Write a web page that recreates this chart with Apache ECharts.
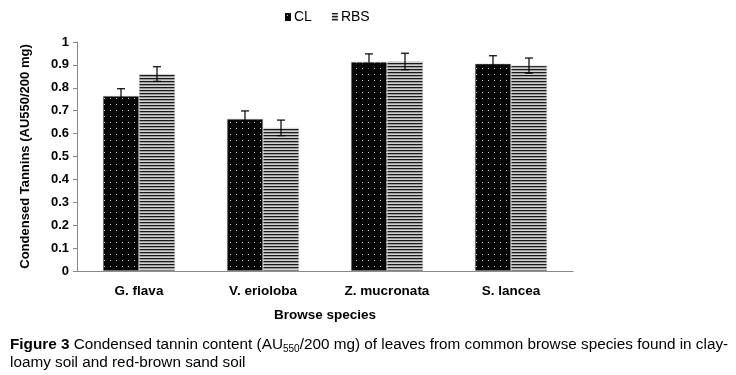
<!DOCTYPE html>
<html>
<head>
<meta charset="utf-8">
<script src="https://cdn.jsdelivr.net/npm/echarts@6/dist/echarts.min.js"></script>
<style>
  html, body { margin: 0; padding: 0; background: #fff; }
  #chart { width: 736px; height: 375px; }
</style>
</head>
<body>
<div id="chart"></div>
<script>
// data
const species = ["G. flava", "V. erioloba", "Z. mucronata", "S. lancea"];
const clValues = [0.764, 0.664, 0.913, 0.905];
const clErrors = [0.032, 0.035, 0.035, 0.035];
const rbsValues = [0.860, 0.625, 0.915, 0.897];
const rbsErrors = [0.032, 0.034, 0.036, 0.033];
const yTicks = [0, 0.1, 0.2, 0.3, 0.4, 0.5, 0.6, 0.7, 0.8, 0.9, 1];

const FONT = "Liberation Sans, Arial, sans-serif";
const BAR_W = 36;

// dotted black fill (CL)
function dotPattern() {
  const c = document.createElement("canvas");
  c.width = 6; c.height = 6;
  const ctx = c.getContext("2d");
  ctx.fillStyle = "#050505";
  ctx.fillRect(0, 0, 6, 6);
  ctx.fillStyle = "#d0d0d0";
  ctx.fillRect(2, 2, 1, 1);
  return c;
}
// horizontal stripes (RBS)
function stripePattern() {
  const c = document.createElement("canvas");
  c.width = 4; c.height = 3;
  const ctx = c.getContext("2d");
  ctx.fillStyle = "#d0d0d0";
  ctx.fillRect(0, 0, 4, 3);
  ctx.fillStyle = "#1a1a1a";
  ctx.fillRect(0, 0, 4, 1);
  ctx.fillStyle = "#9a9a9a";
  ctx.fillRect(0, 1, 4, 1);
  return c;
}

const clFill = { image: dotPattern(), repeat: "repeat" };
const rbsFill = { image: stripePattern(), repeat: "repeat" };

function errorSeries(values, errors, offset) {
  return {
    type: "custom",
    silent: true,
    z: 10,
    data: values.map((v, i) => [i, v - errors[i], v + errors[i]]),
    renderItem: function (params, api) {
      const lo = api.coord([api.value(0), api.value(1)]);
      const hi = api.coord([api.value(0), api.value(2)]);
      const x = lo[0] + offset;
      const cap = 4;
      const style = { stroke: "#000", lineWidth: 1.2 };
      return {
        type: "group",
        children: [
          { type: "line", shape: { x1: x, y1: lo[1], x2: x, y2: hi[1] }, style: style },
          { type: "line", shape: { x1: x - cap, y1: hi[1], x2: x + cap, y2: hi[1] }, style: style },
          { type: "line", shape: { x1: x - cap, y1: lo[1], x2: x + cap, y2: lo[1] }, style: style }
        ]
      };
    }
  };
}

const chart = echarts.init(document.getElementById("chart"));
chart.setOption({
  backgroundColor: "#fff",
  animation: false,
  textStyle: { fontFamily: FONT },
  legend: {
    top: 5,
    left: 280,
    itemWidth: 6,
    itemHeight: 8,
    itemGap: 20,
    textStyle: { fontSize: 14, color: "#000", fontFamily: FONT, padding: [0, 0, 0, -2] },
    itemStyle: { borderWidth: 0 },
    data: [
      { name: "CL", icon: "rect" },
      { name: "RBS", icon: "rect" }
    ]
  },
  grid: { left: 77, right: 163, top: 42, bottom: 104 },
  xAxis: {
    type: "category",
    data: species,
    name: "Browse species",
    nameLocation: "middle",
    nameGap: 37,
    nameTextStyle: { fontSize: 13.5, fontWeight: "bold", color: "#000" },
    axisLine: { lineStyle: { color: "#888", width: 1 } },
    axisTick: { length: 5, lineStyle: { color: "#888" } },
    axisLabel: { fontSize: 13.5, fontWeight: "bold", color: "#000", margin: 13 }
  },
  yAxis: {
    type: "value",
    min: 0,
    max: 1,
    interval: 0.1,
    name: "Condensed Tannins (AU550/200 mg)",
    nameLocation: "middle",
    nameGap: 45,
    nameTextStyle: { fontSize: 13, fontWeight: "bold", color: "#000" },
    axisLine: { show: true, lineStyle: { color: "#888" } },
    axisTick: { show: true, length: 4, lineStyle: { color: "#888" } },
    splitLine: { show: false },
    axisLabel: {
      fontSize: 13, fontWeight: "bold", color: "#000", margin: 8,
      formatter: function (v) {
        const t = yTicks.find(k => Math.abs(k - v) < 1e-6);
        return t === undefined ? "" : String(t);
      }
    }
  },
  series: [
    {
      name: "CL", type: "bar", data: clValues, barWidth: BAR_W, barGap: "0%",
      itemStyle: { color: clFill, borderColor: "#bbb", borderWidth: 0.5 }
    },
    {
      name: "RBS", type: "bar", data: rbsValues, barWidth: BAR_W, barGap: "0%",
      itemStyle: { color: rbsFill, borderColor: "#ccc", borderWidth: 0.5 }
    },
    errorSeries(clValues, clErrors, -BAR_W / 2),
    errorSeries(rbsValues, rbsErrors, BAR_W / 2)
  ],
  graphic: [
    {
      type: "text",
      left: 10,
      top: 336,
      style: {
        fontFamily: FONT,
        fontSize: 15.3,
        fill: "#000",
        lineHeight: 18,
        text: "{b|Figure 3} Condensed tannin content (AU{s|550}/200 mg) of leaves from common browse species found in clay-\nloamy soil and red-brown sand soil",
        rich: {
          b: { fontWeight: "bold", fontSize: 15.3, fontFamily: FONT },
          s: { fontSize: 10, fontFamily: FONT, verticalAlign: "bottom", lineHeight: 15 }
        }
      }
    }
  ]
});
</script>
</body>
</html>
